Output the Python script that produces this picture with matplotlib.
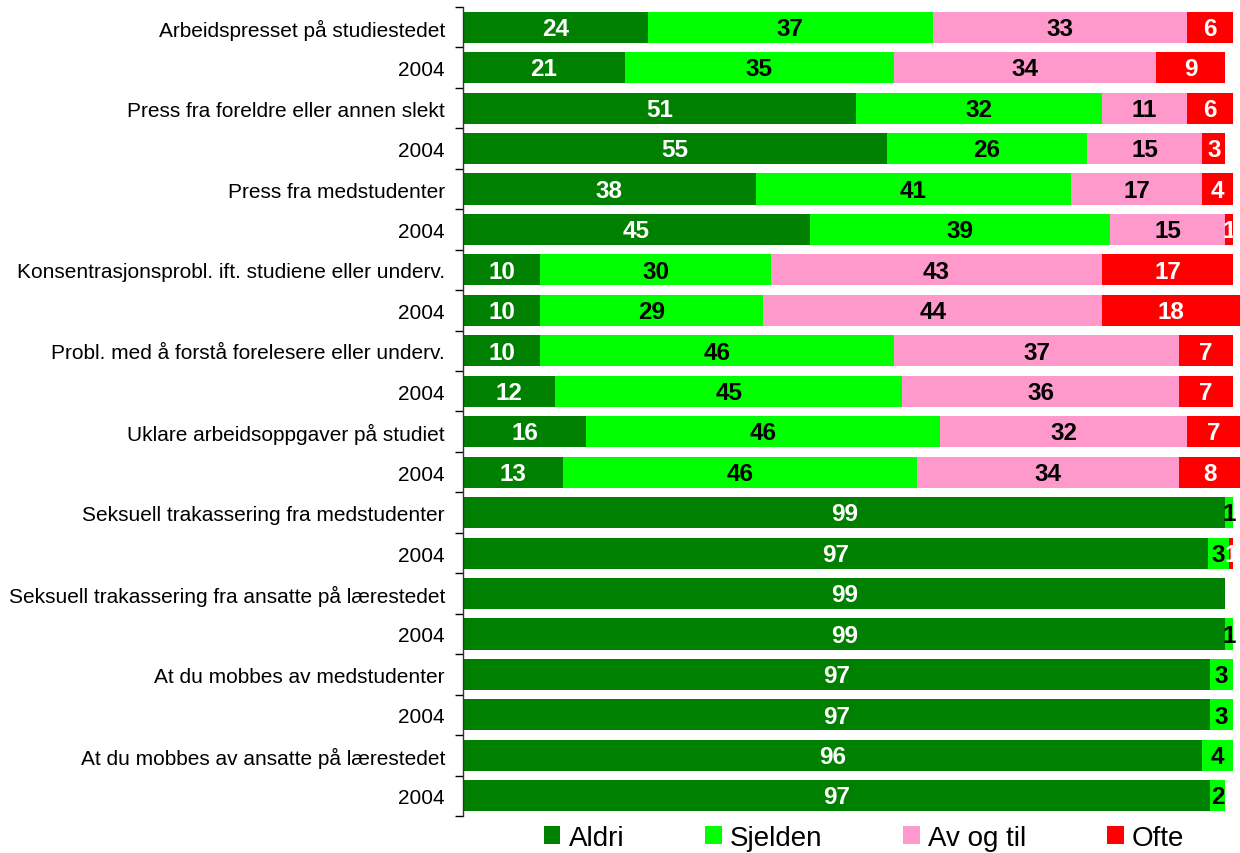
import matplotlib
matplotlib.use("Agg")
import matplotlib.pyplot as plt
import numpy as np

plt.rcParams['font.family'] = ['Liberation Sans', 'DejaVu Sans']

rows = ["Arbeidspresset på studiestedet", "2004",
        "Press fra foreldre eller annen slekt", "2004",
        "Press fra medstudenter", "2004",
        "Konsentrasjonsprobl. ift. studiene eller underv.", "2004",
        "Probl. med å forstå forelesere eller underv.", "2004",
        "Uklare arbeidsoppgaver på studiet", "2004",
        "Seksuell trakassering fra medstudenter", "2004",
        "Seksuell trakassering fra ansatte på lærestedet", "2004",
        "At du mobbes av medstudenter", "2004",
        "At du mobbes av ansatte på lærestedet", "2004"]

aldri = [24, 21, 51, 55, 38, 45, 10, 10, 10, 12, 16, 13, 99, 96.7, 99, 99, 97, 97, 96, 97]
sjelden = [37, 35, 32, 26, 41, 39, 30, 29, 46, 45, 46, 46, 1, 2.8, 0, 1, 3, 3, 4, 2]
av_og_til = [33, 34, 11, 15, 17, 15, 43, 44, 37, 36, 32, 34, 0, 0, 0, 0, 0, 0, 0, 0]
ofte = [6, 9, 6, 3, 4, 1, 17, 18, 7, 7, 7, 8, 0, 0.5, 0, 0, 0, 0, 0, 0]

series = ["Aldri", "Sjelden", "Av og til", "Ofte"]
colors = ["#008000", "#00FF00", "#FF99CC", "#FF0000"]
label_colors = ["white", "black", "black", "white"]

fig = plt.figure(figsize=(12.4, 8.54), dpi=100)
ax = fig.add_axes([463/1240, 1-817/854, (1233-463)/1240, (817-8)/854])

y = np.arange(len(rows))
left = np.zeros(len(rows))
handles = []
for vals, name, col, lc in zip([aldri, sjelden, av_og_til, ofte], series, colors, label_colors):
    vals = np.array(vals, dtype=float)
    bars = ax.barh(y, vals, left=left, height=0.77, color=col, label=name,
                   edgecolor='none', clip_on=False)
    handles.append(bars)
    for yi, (l, v) in enumerate(zip(left, vals)):
        if v > 0:
            ax.text(l + v/2, yi + 0.03, f"{int(v + 0.5)}", ha='center', va='center',
                    color=lc, fontsize=17.5, fontweight='bold', clip_on=False)
    left = left + vals

ax.set_xlim(0, 100)
ax.set_ylim(len(rows) - 0.5, -0.5)
ax.set_yticks(y)
ax.set_yticklabels(rows, fontsize=15.0)
ax.tick_params(axis='y', which='major', length=0, pad=13)
ax.set_yticks(np.arange(-0.5, len(rows)), minor=True)
ax.tick_params(axis='y', which='minor', length=6, width=1, direction='out')
ax.set_xticks([])
for s in ['top', 'right', 'bottom']:
    ax.spines[s].set_visible(False)
ax.spines['left'].set_linewidth(1)
ax.spines['left'].set_color('#333333')

fig.legend(handles, series, loc='center', bbox_to_anchor=(864/1240, 1-839/854),
           ncol=4, frameon=False, fontsize=20, handlelength=0.6, handleheight=0.6,
           handletextpad=0.3, columnspacing=2.9, borderpad=0)

fig.savefig("out.png", dpi=100)
